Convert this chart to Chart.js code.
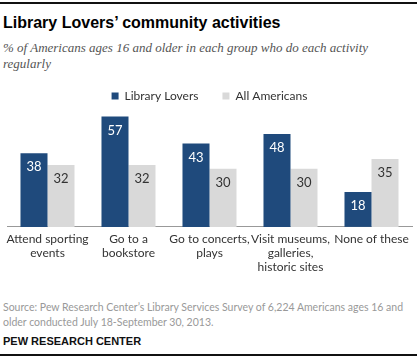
<!DOCTYPE html>
<html>
<head>
<meta charset="utf-8">
<script src="https://cdn.jsdelivr.net/npm/chart.js@4.4.1/dist/chart.umd.min.js"></script>
<style>
  body { margin: 0; background: #fff; width: 417px; height: 360px; overflow: hidden; position: relative; font-family: Lato, "Liberation Sans", Arial, sans-serif; }
  .rule { position: absolute; left: 0; width: 417px; height: 2px; background: #111; }
  #title { position: absolute; left: 3px; top: 14px; font: bold 16px "Liberation Sans", Arial, sans-serif; color: #000; white-space: nowrap; }
  #subtitle { position: absolute; left: 3px; top: 40px; width: 400px; font: italic 13px/16px "Liberation Serif", Georgia, serif; color: #555; }
  #chartBox { position: absolute; left: 0; top: 66px; width: 417px; height: 213px; }
  #source { position: absolute; left: 3px; top: 300px; white-space: nowrap; font-size: 10.5px; line-height: 15px; color: #999; }
  #credit { position: absolute; left: 3px; top: 335px; font: bold 11px "Liberation Sans", Arial, sans-serif; color: #111; }
</style>
</head>
<body>
<div class="rule" style="top:2px"></div>
<div id="title">Library Lovers’ community activities</div>
<div id="subtitle">% of Americans ages 16 and older in each group who do each activity regularly</div>
<div id="chartBox"><canvas id="activityChart"></canvas></div>
<div id="source">Source: Pew Research Center’s Library Services Survey of 6,224 Americans ages 16 and<br>older conducted July 18-September 30, 2013.</div>
<div id="credit">PEW RESEARCH CENTER</div>
<div class="rule" style="top:354px"></div>
<script>
var activities = [
    ["Attend sporting", "events"],
    ["Go to a", "bookstore"],
    ["Go to concerts,", "plays"],
    ["Visit museums,", "galleries,", "historic sites"],
    ["None of these"]
];
var libraryLovers = [38, 57, 43, 48, 18];
var allAmericans = [32, 32, 30, 30, 35];

var labelFont = 'Lato, "Liberation Sans", Arial, sans-serif';

// writes the value just inside the top of each bar
var barValues = {
    id: "barValues",
    afterDatasetsDraw: function (chart) {
        var ctx = chart.ctx;
        ctx.save();
        ctx.font = "13px " + labelFont;
        ctx.textAlign = "center";
        ctx.textBaseline = "middle";
        chart.data.datasets.forEach(function (ds, i) {
            var meta = chart.getDatasetMeta(i);
            meta.data.forEach(function (bar, j) {
                ctx.fillStyle = i == 0 ? "#ffffff" : "#333333";
                ctx.fillText(ds.data[j], bar.x, bar.y + 14);
            });
        });
        ctx.restore();
    }
};

var chart = new Chart(document.getElementById("activityChart"), {
    type: "bar",
    data: {
        labels: activities,
        datasets: [{
            label: "Library Lovers",
            data: libraryLovers,
            backgroundColor: "#1f4a7c"
        },
        {
            label: "All Americans",
            data: allAmericans,
            backgroundColor: "#d9d9d9"
        }]
    },
    options: {
        responsive: true,
        maintainAspectRatio: false,
        animation: false,
        layout: { padding: { left: 7, right: 5, top: 0, bottom: 0 } },
        categoryPercentage: 0.667,
        barPercentage: 1.0,
        plugins: {
            legend: {
                labels: {
                    boxWidth: 7,
                    boxHeight: 7,
                    padding: 24,
                    color: "#333",
                    font: { size: 12, family: labelFont }
                }
            },
            tooltip: { enabled: false }
        },
        scales: {
            x: {
                grid: { display: false, drawTicks: false },
                border: { display: true, color: "#999" },
                ticks: {
                    color: "#333",
                    padding: 5,
                    maxRotation: 0,
                    autoSkip: false,
                    font: { size: 12, family: labelFont, lineHeight: 1.17 }
                }
            },
            y: {
                display: false,
                min: 0,
                max: 59.3
            }
        }
    },
    plugins: [barValues]
});
</script>
</body>
</html>
